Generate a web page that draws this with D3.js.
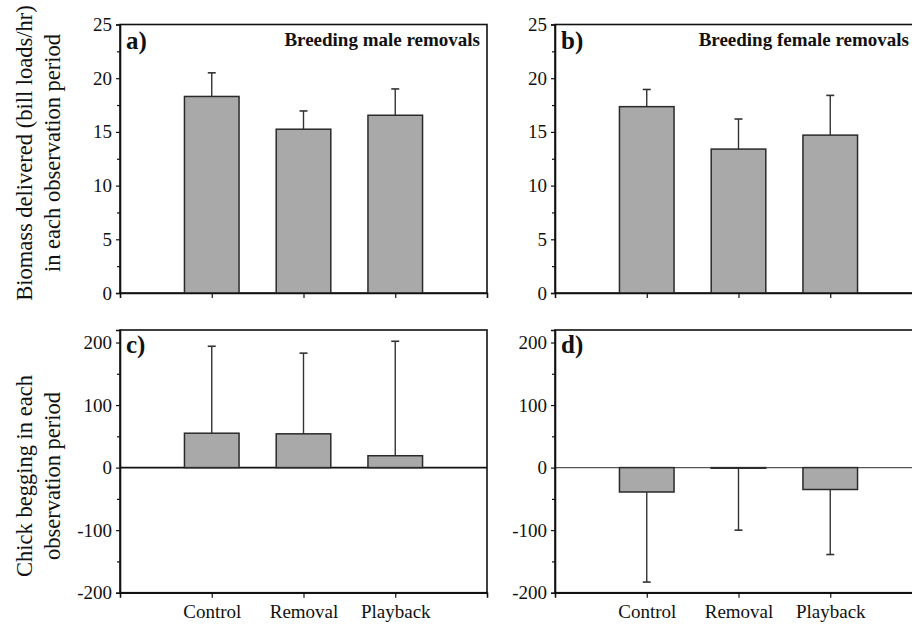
<!DOCTYPE html>
<html>
<head>
<meta charset="utf-8">
<script src="https://cdn.jsdelivr.net/npm/d3@7"></script>
<style>
  body { margin: 0; background: #fff; }
  svg { display: block; }
</style>
</head>
<body>
<div id="chart"></div>
<script>
// data
const categories = ["Control", "Removal", "Playback"];

const maleBiomass = [18.3, 15.25, 16.55];
const maleBiomassErr = [2.2, 1.7, 2.45];
const femaleBiomass = [17.35, 13.4, 14.7];
const femaleBiomassErr = [1.6, 2.8, 3.7];

const maleBegging = [55, 54, 19];
const maleBeggingErr = [139, 129, 183];
const femaleBegging = [-39, -1, -35];
const femaleBeggingErr = [-144, -99, -104];

const biomassTicks = [0, 5, 10, 15, 20, 25];
const biomassMinor = [2.5, 7.5, 12.5, 17.5, 22.5];
const beggingTicks = [-200, -100, 0, 100, 200];
const beggingMinor = [-150, -50, 50, 150];

const barFill = "#a9a9a9";
const ink = "#111";
const serif = "'Liberation Serif', 'Times New Roman', serif";

const svg = d3.select("#chart")
  .append("svg")
  .attr("width", 912)
  .attr("height", 624)
  .style("font-family", serif);

function panel(opts) {
  const g = svg.append("g")
    .attr("transform", `translate(${opts.left},${opts.top})`);
  const w = opts.width, h = opts.height;

  const x = d3.scalePoint().domain(categories).range([0, w]).padding(1);
  const y = d3.scaleLinear().domain(opts.domain).range([h, 0]);
  const bw = x.step() * 0.595;

  // frame
  g.append("rect")
    .attr("width", w).attr("height", h)
    .attr("fill", "none").attr("stroke", ink).attr("stroke-width", 1.6);

  // zero line for the begging panels
  if (opts.zeroLine) {
    g.append("line")
      .attr("x1", 0).attr("x2", w)
      .attr("y1", y(0)).attr("y2", y(0))
      .attr("stroke", opts.zeroLine).attr("stroke-width", opts.zeroWidth);
  }

  // error bars
  const data = categories.map((c, i) => ({ c, v: opts.values[i], e: opts.errors[i] }));
  const eb = g.selectAll(".err").data(data).join("g").attr("class", "err");
  eb.append("line")
    .attr("x1", d => x(d.c)).attr("x2", d => x(d.c))
    .attr("y1", d => y(d.v)).attr("y2", d => y(d.v + d.e))
    .attr("stroke", "#333").attr("stroke-width", 1.4);
  eb.append("line")
    .attr("x1", d => x(d.c) - 4).attr("x2", d => x(d.c) + 4)
    .attr("y1", d => y(d.v + d.e)).attr("y2", d => y(d.v + d.e))
    .attr("stroke", "#333").attr("stroke-width", 1.6);

  // bars
  g.selectAll(".bar").data(data).join("rect")
    .attr("class", "bar")
    .attr("x", d => x(d.c) - bw / 2)
    .attr("width", bw)
    .attr("y", d => y(Math.max(0, d.v)))
    .attr("height", d => Math.abs(y(d.v) - y(0)))
    .attr("fill", barFill)
    .attr("stroke", "#2a2a2a").attr("stroke-width", 1.5);

  // axes
  const yAxis = g.append("g")
    .call(d3.axisLeft(y).tickValues(opts.ticks).tickSize(4).tickPadding(4)
      .tickFormat(d => String(d)));
  g.append("g")
    .call(d3.axisLeft(y).tickValues(opts.minor).tickSize(3).tickFormat(""))
    .select(".domain").remove();
  const xAxis = g.append("g")
    .attr("transform", `translate(0,${h})`)
    .call(d3.axisBottom(x).tickSize(5).tickPadding(7)
      .tickFormat(opts.showCats ? d => d : ""));

  [yAxis, xAxis].forEach(a => {
    a.attr("font-family", null);
    a.selectAll(".domain").attr("stroke", ink).attr("stroke-width", 1.6);
    a.selectAll("text")
      .attr("fill", ink)
      .style("font-family", serif)
      .style("font-size", "19px");
  });
  g.selectAll(".tick line").attr("stroke", ink).attr("stroke-width", 1.2);

  // panel letter
  g.append("text")
    .attr("x", 6).attr("y", opts.letterY)
    .style("font-family", serif)
    .attr("font-size", 25).attr("font-weight", "bold").attr("fill", ink)
    .text(opts.letter);

  if (opts.title) {
    g.append("text")
      .attr("x", w - opts.titleInset).attr("y", 21)
      .attr("text-anchor", "end")
      .style("font-family", serif)
      .attr("font-size", 19).attr("font-weight", "bold").attr("fill", ink)
      .text(opts.title);
  }
}

const W = 367;

panel({ left: 120, top: 24.5, width: W, height: 268.5, domain: [0, 25],
  values: maleBiomass, errors: maleBiomassErr,
  ticks: biomassTicks, minor: biomassMinor,
  letter: "a)", letterY: 24, title: "Breeding male removals", titleInset: 7 });

panel({ left: 555, top: 24.5, width: W, height: 268.5, domain: [0, 25],
  values: femaleBiomass, errors: femaleBiomassErr,
  ticks: biomassTicks, minor: biomassMinor,
  letter: "b)", letterY: 24, title: "Breeding female removals", titleInset: 13 });

panel({ left: 120, top: 330, width: W, height: 262.7, domain: [-200, 220],
  values: maleBegging, errors: maleBeggingErr,
  ticks: beggingTicks, minor: beggingMinor,
  letter: "c)", letterY: 23, showCats: true,
  zeroLine: ink, zeroWidth: 1.6 });

panel({ left: 555, top: 330, width: W, height: 262.7, domain: [-200, 220],
  values: femaleBegging, errors: femaleBeggingErr,
  ticks: beggingTicks, minor: beggingMinor,
  letter: "d)", letterY: 23, showCats: true,
  zeroLine: "#555", zeroWidth: 1.1 });

// y axis titles
const yTitles = [
  { lines: ["Biomass delivered (bill loads/hr)", "in each observation period"], cy: 153 },
  { lines: ["Chick begging in each", "observation period"], cy: 476 },
];
yTitles.forEach(t => {
  t.lines.forEach((line, i) => {
    svg.append("text")
      .attr("transform", `translate(${32 + i * 28},${t.cy}) rotate(-90)`)
      .attr("text-anchor", "middle")
      .style("font-family", serif)
      .attr("font-size", 22.5).attr("fill", ink)
      .text(line);
  });
});
</script>
</body>
</html>
